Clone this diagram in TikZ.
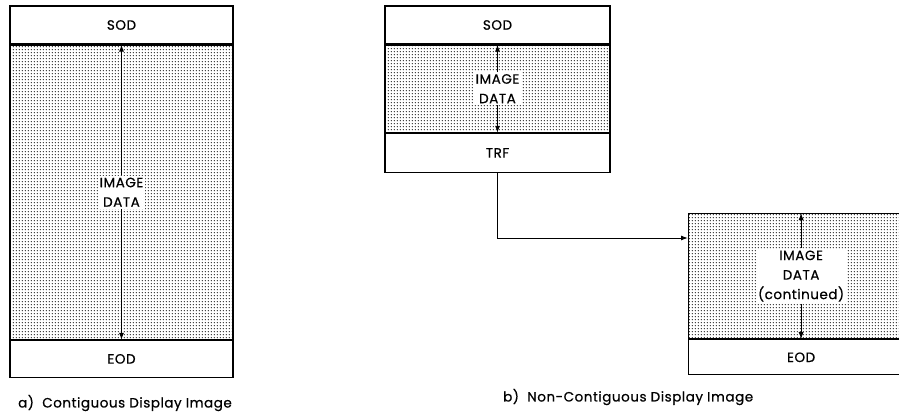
\documentclass[tikz,border=0pt]{standalone}
\usepackage{fontspec}
\setmainfont{Poppins}[LetterSpace=4,FakeBold=0.6]
\usetikzlibrary{arrows.meta,patterns,positioning}
\pgfdeclarepatternformonly{bigdots}{\pgfpointorigin}{\pgfpoint{3.2pt}{3.2pt}}{\pgfpoint{3.2pt}{3.2pt}}{%
  \pgfpathcircle{\pgfpoint{1.6pt}{1.6pt}}{0.7pt}\pgfusepath{fill}}
\begin{document}
\begin{tikzpicture}[x=1pt,y=-1pt,font=\fontsize{13.5}{19.5}\selectfont,
  row/.style={draw,line width=1.2pt,inner sep=0pt,minimum width=#1},
  dotted row/.style={row=#1,pattern=bigdots},
  label/.style={fill=white,inner sep=2pt,align=center},
  arr/.style={-{Latex[length=7pt,width=5pt]},line width=1pt}]
\useasboundingbox (0,0) rectangle (899,415);
% a) contiguous image
\node[row=223,minimum height=38] (sodA) at (121.5,25) {SOD};
\node[dotted row=223,minimum height=294,below=0pt of sodA] (dataA) {};
\node[row=223,minimum height=37,below=0pt of dataA] (eodA) {EOD};
\node[label] (imgA) at (dataA) {IMAGE\\DATA};
\draw[arr] (imgA) -- (dataA.north);
\draw[arr] (imgA) -- (dataA.south);
\node[anchor=west,inner sep=0pt] (capA) at (18,403) {a)\ \ Contiguous Display Image};
% b) non-contiguous image
\node[row=225,minimum height=38] (sodB) at (497.5,25) {SOD};
\node[dotted row=225,minimum height=87,below=0pt of sodB] (dataB) {};
\node[row=225,minimum height=39,below=0pt of dataB] (trfB) {TRF};
\node[label] (imgB) at (dataB) {IMAGE\\DATA};
\draw[arr] (imgB) -- (dataB.north);
\draw[arr] (imgB) -- (dataB.south);
\node[dotted row=225,minimum height=125,anchor=north west] (dataC) at (688,213) {};
\node[row=225,minimum height=35,below=0pt of dataC] (eodC) {EOD};
\node[label] (imgC) at (dataC) {IMAGE\\DATA\\(continued)};
\draw[arr] (imgC) -- (dataC.north);
\draw[arr] (imgC) -- (dataC.south);
\draw[arr] (trfB.south) |- ([yshift=-25pt]dataC.north west);
\node[anchor=west,inner sep=0pt] (capB) at (503,397) {b)\ \ Non-Contiguous Display Image};
\end{tikzpicture}
\end{document}
